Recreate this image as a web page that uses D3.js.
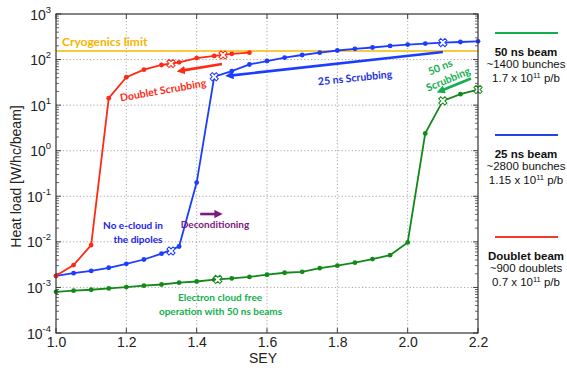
<!DOCTYPE html>
<html><head><meta charset="utf-8">
<script src="https://cdn.jsdelivr.net/npm/d3@7"></script>
<style>body{margin:0;background:#fff}svg{display:block}</style>
</head><body>
<svg id="c" width="567" height="371"></svg>
<script>
// ---- data ----
const sey = [1.00,1.05,1.10,1.15,1.20,1.25,1.30,1.35,1.40,1.45,1.50,1.55,1.60,1.65,1.70,1.75,1.80,1.85,1.90,1.95,2.00,2.05,2.10,2.15,2.20];
const beam50 = [8.0e-4,8.5e-4,8.9e-4,9.5e-4,1.02e-3,1.09e-3,1.16e-3,1.27e-3,1.35e-3,1.48e-3,1.58e-3,1.7e-3,1.9e-3,2.1e-3,2.2e-3,2.65e-3,3.0e-3,3.5e-3,4.2e-3,5.1e-3,9.7e-3,2.4,12.4,17.4,22];
const beam25 = [1.8e-3,2.06e-3,2.3e-3,2.7e-3,3.3e-3,4.1e-3,5.5e-3,7.9e-3,0.2,42,56,78,93,110,126,142,158,172,184,199,213,224,236,243,252];
const seyDoublet = [1.00,1.05,1.10,1.15,1.20,1.25,1.30,1.35,1.40,1.45,1.50,1.55];
const doublet = [1.8e-3,3.1e-3,8.5e-3,14.2,41,60,76,87,108,120,134,142];
// crossed markers (operating points)
const mark50 = [[1.46,1.5e-3],[2.10,12.4],[2.20,22]];
const mark25 = [[1.327,6.3e-3],[1.45,42],[2.10,236]];
const markDoublet = [[1.327,82],[1.475,126]];
const cryoLimit = 154;
const xTicks = [1.0,1.2,1.4,1.6,1.8,2.0,2.2];
const yExps = [-4,-3,-2,-1,0,1,2,3];
const legendItems = [
  {title:"50 ns beam", l2:"~1400 bunches", l3a:"1.7 x 10", l3b:" p/b", color:"#12b04c"},
  {title:"25 ns beam", l2:"~2800 bunches", l3a:"1.15 x 10", l3b:" p/b", color:"#2443e0"},
  {title:"Doublet beam", l2:"~900 doublets", l3a:"0.7 x 10", l3b:" p/b", color:"#f23a2a"}
];

// ---- layout ----
const svg = d3.select("#c");
const L=56, R=478, T=14, B=333;
const x = d3.scaleLinear().domain([1.0,2.2]).range([L,R]);
const y = d3.scaleLog().domain([1e-4,1e3]).range([B,T]);
const C50="#13891a", C25="#1c3cff", CD="#ff2a14";
const font="'Liberation Sans', Arial, sans-serif";
const afont="Lato, 'Open Sans', sans-serif";

// grid
const g = svg.append("g");
g.selectAll(".gx").data(xTicks.slice(1,-1)).join("line")
 .attr("x1",d=>x(d)).attr("x2",d=>x(d)).attr("y1",T).attr("y2",B)
 .attr("stroke","#8f8f8f").attr("stroke-width",0.8).attr("stroke-dasharray","1.2,2.2");
g.selectAll(".gy").data(yExps.slice(1,-1)).join("line")
 .attr("x1",L).attr("x2",R).attr("y1",d=>y(Math.pow(10,d))).attr("y2",d=>y(Math.pow(10,d)))
 .attr("stroke","#8f8f8f").attr("stroke-width",0.8).attr("stroke-dasharray","1.2,2.2");

// minor ticks (inside, left and right) and major ticks
const minor=[];
for(let e=-4;e<3;e++) for(let m=2;m<=9;m++) minor.push(m*Math.pow(10,e));
g.selectAll(".ml").data(minor).join("line").attr("x1",L).attr("x2",L+3)
 .attr("y1",d=>y(d)).attr("y2",d=>y(d)).attr("stroke","#444").attr("stroke-width",0.8);
g.selectAll(".mr").data(minor).join("line").attr("x1",R).attr("x2",R-3)
 .attr("y1",d=>y(d)).attr("y2",d=>y(d)).attr("stroke","#444").attr("stroke-width",0.8);
g.selectAll(".Ml").data(yExps).join("line").attr("x1",L).attr("x2",L+5)
 .attr("y1",d=>y(Math.pow(10,d))).attr("y2",d=>y(Math.pow(10,d))).attr("stroke","#444");
g.selectAll(".Mr").data(yExps).join("line").attr("x1",R).attr("x2",R-5)
 .attr("y1",d=>y(Math.pow(10,d))).attr("y2",d=>y(Math.pow(10,d))).attr("stroke","#444");
g.selectAll(".Mb").data(xTicks).join("line").attr("x1",d=>x(d)).attr("x2",d=>x(d))
 .attr("y1",B).attr("y2",B-5).attr("stroke","#444");
g.selectAll(".Mt").data(xTicks).join("line").attr("x1",d=>x(d)).attr("x2",d=>x(d))
 .attr("y1",T).attr("y2",T+5).attr("stroke","#444");

// axes labels
const xa = d3.axisBottom(x).tickValues(xTicks).tickFormat(d3.format(".1f")).tickSize(0).tickPadding(4);
const xg = svg.append("g").attr("transform",`translate(0,${B})`).call(xa);
xg.select(".domain").remove();
xg.selectAll("text").attr("font-family",font).attr("font-size",14).attr("fill","#222");
const ya = d3.axisLeft(y).tickValues(yExps.map(e=>Math.pow(10,e))).tickFormat("").tickSize(0);
const yg = svg.append("g").attr("transform",`translate(${L},0)`).call(ya);
yg.select(".domain").remove();
yg.selectAll(".tick").each(function(d){
  const t=d3.select(this).append("text").attr("x",-5).attr("y",5).attr("text-anchor","end")
    .attr("font-family",font).attr("fill","#222");
  t.append("tspan").attr("font-size",14).text("10");
  t.append("tspan").attr("font-size",9.5).attr("dy",-7).text(String(Math.round(Math.log10(d))));
});
svg.append("text").attr("x",263).attr("y",363).attr("text-anchor","middle")
 .attr("font-family",font).attr("font-size",14).attr("fill","#222").text("SEY");
svg.append("text").attr("transform",`translate(21,${(T+B)/2+3}) rotate(-90)`).attr("text-anchor","middle")
 .attr("font-family",font).attr("font-size",14).attr("fill","#222").text("Heat load [W/hc/beam]");

// cryogenics limit
svg.append("line").attr("x1",L).attr("x2",R).attr("y1",y(cryoLimit)).attr("y2",y(cryoLimit))
 .attr("stroke","#f5b800").attr("stroke-width",1.6);

// series
const line = d3.line().x(d=>x(d[0])).y(d=>y(d[1]));
function series(xs, vs, col, marks){
  const pts = xs.map((s,i)=>[s,vs[i]]);
  svg.append("path").datum(pts).attr("d",line).attr("fill","none").attr("stroke",col).attr("stroke-width",1.8);
  svg.append("g").selectAll("circle").data(pts).join("circle")
    .attr("cx",d=>x(d[0])).attr("cy",d=>y(d[1])).attr("r",2.4).attr("fill",col);
  const sym = d3.symbol(d3.symbolCross, 42);
  svg.append("g").selectAll("path").data(marks).join("path").attr("d",sym)
    .attr("transform",d=>`translate(${x(d[0])},${y(d[1])}) rotate(45)`)
    .attr("fill","#fff").attr("stroke",col).attr("stroke-width",1);
}
series(sey, beam50, C50, mark50);
series(sey, beam25, C25, mark25);
series(seyDoublet, doublet, CD, markDoublet);

// frame
svg.append("rect").attr("x",L).attr("y",T).attr("width",R-L).attr("height",B-T)
 .attr("fill","none").attr("stroke","#333").attr("stroke-width",1.2);

// arrows
const defs = svg.append("defs");
function arrow(id,col){
  defs.append("marker").attr("id",id).attr("viewBox","0 0 10 10").attr("refX",2).attr("refY",5)
   .attr("markerWidth",3.2).attr("markerHeight",3.2).attr("orient","auto")
   .append("path").attr("d","M0,0 L10,5 L0,10 z").attr("fill",col);
}
arrow("aR",CD); arrow("aB",C25); arrow("aG","#12b04c"); arrow("aP","#7b1a7d");
function arr(p1,p2,id,col,w){
  svg.append("line").attr("x1",x(p1[0])).attr("y1",y(p1[1])).attr("x2",x(p2[0])).attr("y2",y(p2[1]))
   .attr("stroke",col).attr("stroke-width",w).attr("marker-end",`url(#${id})`);
}
arr([1.472,80],[1.362,58],"aR",CD,2.6);
arr([2.10,147],[1.50,45],"aB",C25,2.6);
arr([2.18,38.4],[2.10,21.5],"aG","#12b04c",2.6);
arr([1.41,0.0408],[1.455,0.0408],"aP","#7b1a7d",2.6);

// annotation texts
function txt(str,cx,cy,rot,col,size,anchor){
  svg.append("text").attr("transform",`translate(${cx},${cy}) rotate(${rot})`)
   .attr("text-anchor",anchor||"middle").attr("dominant-baseline","central")
   .attr("font-family",afont).attr("font-weight","bold").attr("font-size",size).attr("fill",col).text(str);
}
txt("Cryogenics limit",62,41,0,"#f5b400",12,"start");
txt("Doublet Scrubbing",163,90,-10,CD,10.5);
txt("25 ns Scrubbing",355,77.5,-6,"#1c2ee6",10.5);
txt("50 ns",440,67,-23,"#12b04c",10.5);
txt("Scrubbing",448,79,-23,"#12b04c",10.5);
txt("No e-cloud in",133,225,0,"#1a22ee",10);
txt("the dipoles",138,239,0,"#1a22ee",10);
txt("Deconditioning",215,224,0,"#7b1a7d",10);
txt("Electron cloud free",220,297,0,"#12b04c",10);
txt("operation with 50 ns beams",220.5,311,0,"#12b04c",10);

// legend
const legY=[33,135,237];
legendItems.forEach((it,i)=>{
  const y0=legY[i];
  svg.append("line").attr("x1",495).attr("x2",558).attr("y1",y0).attr("y2",y0).attr("stroke",it.color).attr("stroke-width",2.2);
  const cx=526;
  svg.append("text").attr("x",cx).attr("y",y0+23).attr("text-anchor","middle").attr("font-family",font)
   .attr("font-weight","bold").attr("font-size",11.5).attr("fill","#111").text(it.title);
  svg.append("text").attr("x",cx).attr("y",y0+35).attr("text-anchor","middle").attr("font-family",font)
   .attr("font-size",11.5).attr("fill","#111").text(it.l2);
  const t=svg.append("text").attr("x",cx).attr("y",y0+49).attr("text-anchor","middle").attr("font-family",font)
   .attr("font-size",11.5).attr("fill","#111");
  t.append("tspan").text(it.l3a);
  t.append("tspan").attr("font-size",7.5).attr("dy",-4).text("11");
  t.append("tspan").attr("dy",4).text(it.l3b);
});
</script>
</body></html>
